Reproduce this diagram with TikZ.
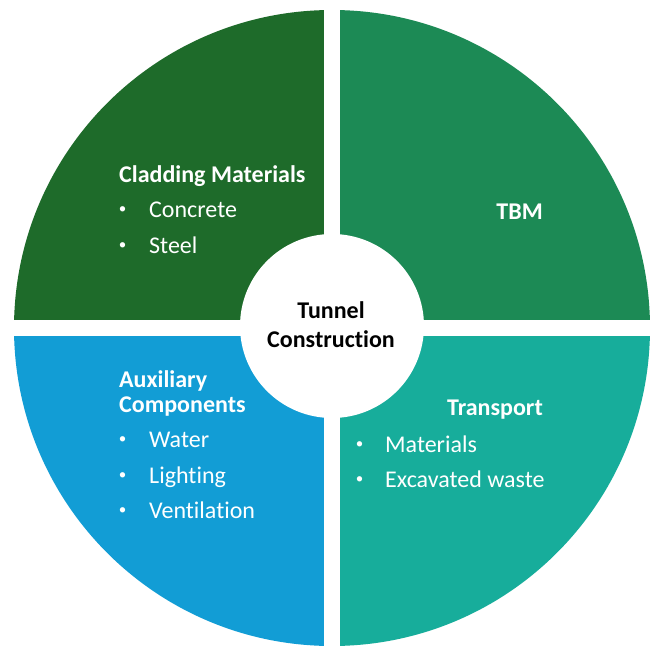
\documentclass[tikz,border=0pt]{standalone}
\usepackage{fontspec}
\setmainfont{Carlito}[Ligatures=NoCommon]
\definecolor{qtl}{HTML}{1E6B2A}
\definecolor{qtr}{HTML}{1C8A55}
\definecolor{qbl}{HTML}{129DD5}
\definecolor{qbr}{HTML}{17AD9B}
\tikzset{
  head/.style={anchor=base west, inner sep=0pt, text=white, font=\fontsize{24}{29}\selectfont\bfseries},
  headr/.style={anchor=base east, inner sep=0pt, text=white, font=\fontsize{24}{29}\selectfont\bfseries},
  item/.style={anchor=base west, inner sep=0pt, text=white, font=\fontsize{24}{29}\selectfont},
  bul/.style={anchor=center, inner sep=0pt, text=white, font=\fontsize{15}{18}\selectfont},
  ctext/.style={anchor=base, inner sep=0pt, text=black, font=\fontsize{24}{29}\selectfont\bfseries},
}
\begin{document}
\begin{tikzpicture}[x=1pt,y=-1pt]
\useasboundingbox (0,0) rectangle (662,653);
\fill[white] (0,0) rectangle (662,653);
\coordinate (c) at (332,328);
\begin{scope}
  \clip (c) circle (318);
  \fill[qtl] (0,0) rectangle (324,320);
  \fill[qtr] (340,0) rectangle (662,320);
  \fill[qbl] (0,336) rectangle (324,653);
  \fill[qbr] (340,336) rectangle (662,653);
\end{scope}
\node[circle, fill=white, minimum size=184pt, inner sep=0pt] (hub) at (332,326) {};
\node[ctext] (t1) at (331,318) {Tunnel};
\node[ctext] (t2) at (331,347) {Construction};
% top-left
\node[head] (clad) at (119,182) {Cladding Materials};
\node[bul] (b1) at (122.5,210) {•};
\node[item] (conc) at (149,217) {Concrete};
\node[bul] (b2) at (122.5,246) {•};
\node[item] (steel) at (149,253) {Steel};
% top-right
\node[headr] (tbm) at (543,219) {TBM};
% bottom-left
\node[head] (aux1) at (119,387) {Auxiliary};
\node[head] (aux2) at (119,412) {Components};
\node[bul] (b3) at (122.5,440) {•};
\node[item] (water) at (149,447) {Water};
\node[bul] (b4) at (122.5,476) {•};
\node[item] (light) at (149,483) {Lighting};
\node[bul] (b5) at (122.5,511) {•};
\node[item] (vent) at (149,518) {Ventilation};
% bottom-right
\node[headr] (trans) at (543,415) {Transport};
\node[bul] (b6) at (359.5,445) {•};
\node[item] (mat) at (385,452) {Materials};
\node[bul] (b7) at (359.5,480) {•};
\node[item] (exc) at (385,487) {Excavated waste};
\end{tikzpicture}
\end{document}
